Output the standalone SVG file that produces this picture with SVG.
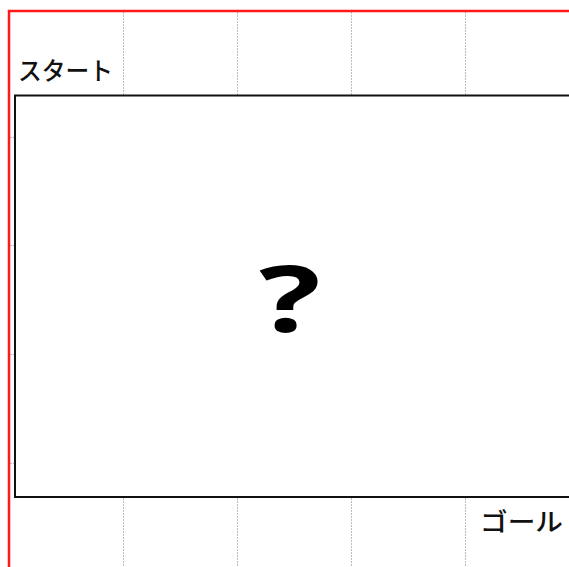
<svg xmlns="http://www.w3.org/2000/svg" width="569" height="567" viewBox="0 0 569 567">
<style>
.grid{stroke:#bdbdbd;stroke-width:1;stroke-dasharray:2 1}
.red{stroke:#ff1a1a;stroke-width:2.5;fill:none}
.lbl{font-family:"Noto Sans CJK JP","Noto Sans",sans-serif;font-size:25px;font-weight:500;fill:#111}
</style>
<rect width="569" height="567" fill="#fff"/>
<g id="grid">
<line class="grid" x1="123.5" y1="12" x2="123.5" y2="95"/>
<line class="grid" x1="237.5" y1="12" x2="237.5" y2="95"/>
<line class="grid" x1="351.5" y1="12" x2="351.5" y2="95"/>
<line class="grid" x1="465.5" y1="12" x2="465.5" y2="95"/>
<line class="grid" x1="123.5" y1="498" x2="123.5" y2="567"/>
<line class="grid" x1="237.5" y1="498" x2="237.5" y2="567"/>
<line class="grid" x1="351.5" y1="498" x2="351.5" y2="567"/>
<line class="grid" x1="465.5" y1="498" x2="465.5" y2="567"/>
<line class="grid" x1="10" y1="137.5" x2="14" y2="137.5"/>
<line class="grid" x1="10" y1="245.5" x2="14" y2="245.5"/>
<line class="grid" x1="10" y1="354.5" x2="14" y2="354.5"/>
<line class="grid" x1="10" y1="463.5" x2="14" y2="463.5"/>
</g>
<g id="border">
<path class="red" d="M9,567 V11 H569"/>
</g>
<g id="board">
<rect x="15" y="95.5" width="560" height="401.5" fill="none" stroke="#111" stroke-width="2"/>
<text transform="translate(290,332) scale(1.4,1)" x="0" y="0" text-anchor="middle" font-family="'Open Sans','Noto Sans',sans-serif" font-weight="bold" font-size="92" fill="#000">?</text>
</g>
<g id="start"><text class="lbl" x="18" y="80" textLength="95" lengthAdjust="spacingAndGlyphs">スタート</text></g>
<g id="goal"><text class="lbl" x="480" y="531" textLength="83" lengthAdjust="spacingAndGlyphs">ゴール</text></g>
</svg>
